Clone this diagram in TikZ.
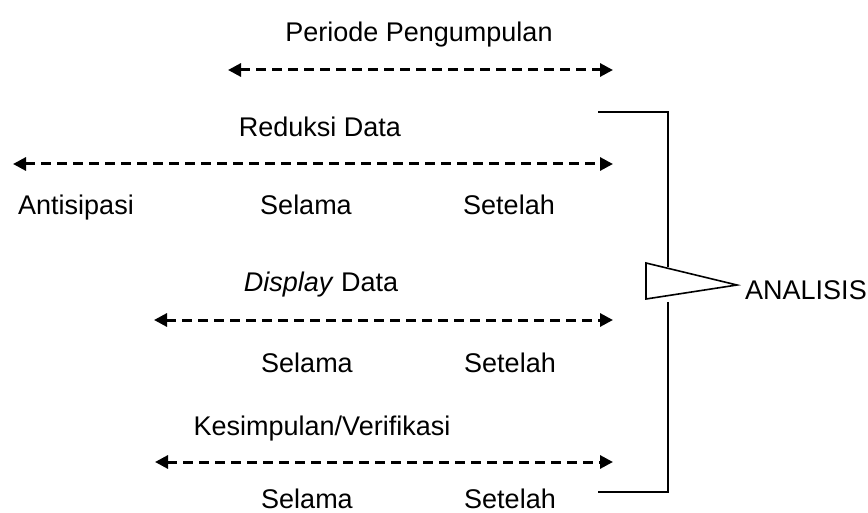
\documentclass[tikz,border=0pt]{standalone}
\usepackage{fontspec}
\setmainfont{Liberation Sans}
\usetikzlibrary{arrows.meta}
\begin{document}
\begin{tikzpicture}[x=1pt,y=-1pt,
  lbl/.style={inner sep=0pt,anchor=base,font=\fontsize{27pt}{32pt}\selectfont},
  darr/.style={line width=3pt,dash pattern=on 10pt off 6pt,
    {Triangle[length=13pt,width=13pt]}-{Triangle[length=13pt,width=13pt]}},
  brk/.style={line width=1.6pt}]
\useasboundingbox (0,0) rectangle (868,513);
% texts
\node[lbl] (periode) at (419,42) {Periode Pengumpulan};
\node[lbl] (reduksi) at (320,137) {Reduksi Data};
\node[lbl] (antis) at (76,215) {Antisipasi};
\node[lbl] (sel1) at (306,215) {Selama};
\node[lbl] (set1) at (509,215) {Setelah};
\node[lbl] (display) at (321,292) {\textit{Display} Data};
\node[lbl] (sel2) at (307,372) {Selama};
\node[lbl] (set2) at (510,372) {Setelah};
\node[lbl] (kesim) at (322,435) {Kesimpulan/Verifikasi};
\node[lbl] (sel3) at (307,508) {Selama};
\node[lbl] (set3) at (510,508) {Setelah};
\node[lbl,anchor=base west] (analisis) at (745,300) {ANALISIS};
% arrow ends
\coordinate (a1l) at (228,70);  \coordinate (a1r) at (613,70);
\coordinate (a2l) at (13,164);  \coordinate (a2r) at (613,164);
\coordinate (a3l) at (154,320); \coordinate (a3r) at (613,320);
\coordinate (a4l) at (155,462); \coordinate (a4r) at (613,462);
\draw[darr] (a1l) -- (a1r);
\draw[darr] (a2l) -- (a2r);
\draw[darr] (a3l) -- (a3r);
\draw[darr] (a4l) -- (a4r);
% bracket
\coordinate (bt) at (598,112);
\coordinate (bb) at (598,492);
\coordinate (bm1) at (668,267);
\coordinate (bm2) at (668,302);
\draw[brk] (bt) -| (bm1);
\draw[brk] (bm2) |- (bb);
% triangle pointer
\coordinate (tt) at (646,263);
\coordinate (tb) at (646,299);
\coordinate (tp) at (737,285);
\draw[brk,fill=white,line join=miter] (tt) -- (tp) -- (tb) -- cycle;
\end{tikzpicture}
\end{document}
